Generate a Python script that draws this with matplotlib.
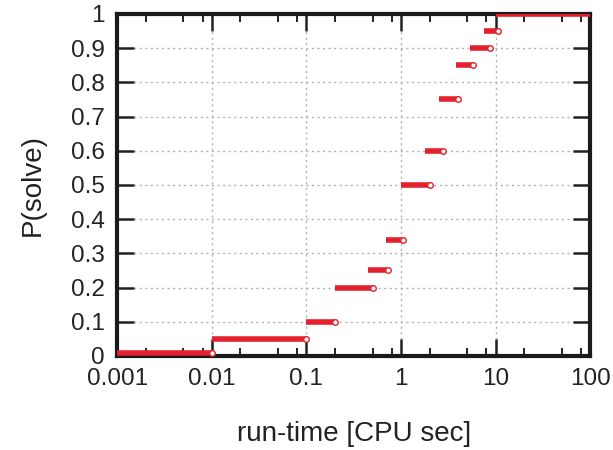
import numpy as np
import matplotlib.pyplot as plt
from matplotlib.ticker import FixedLocator, NullFormatter

plt.rcParams['font.family'] = ['Liberation Sans', 'DejaVu Sans']

# step levels of the runtime distribution, with start / end of each step
levels = [0.01, 0.05, 0.10, 0.20, 0.25, 0.34, 0.50, 0.60, 0.75, 0.85, 0.90, 0.95, 1.00]
starts = [0.001, 0.01, 0.1, 0.2, 0.45, 0.7, 1.0, 1.8, 2.5, 3.8, 5.3, 7.5, 10.0]
ends = [0.01, 0.1, 0.2, 0.5, 0.72, 1.05, 2.0, 2.75, 4.0, 5.8, 8.8, 10.7, 100.0]

red = '#e3202b'

fig = plt.figure(figsize=(6.13, 4.5), dpi=100)
ax = fig.add_axes([0.191, 0.209, 0.772, 0.76])

ax.hlines(levels, starts, ends, color=red, linewidth=4.0, zorder=3)
ax.plot(ends[:-1], levels[:-1], 'o', mfc='white', mec=red, ms=4, mew=1.0, zorder=4)

ax.set_xscale('log')
ax.set_xlim(0.001, 100)
ax.set_ylim(0, 1)

ax.set_yticks(np.arange(0, 1.01, 0.1))
ax.set_yticklabels(['0', '0.1', '0.2', '0.3', '0.4', '0.5', '0.6', '0.7', '0.8', '0.9', '1'])
ax.set_xticks([0.001, 0.01, 0.1, 1, 10, 100])
ax.set_xticklabels(['0.001', '0.01', '0.1', '1', '10', '100'])
minors = [m * 10.0 ** e for e in range(-3, 2) for m in (2, 5, 8)]
ax.xaxis.set_minor_locator(FixedLocator(minors))
ax.xaxis.set_minor_formatter(NullFormatter())

ax.tick_params(axis='both', which='major', direction='in', top=True, right=True,
               length=12, width=1.8, labelsize=17.5, pad=9, color='#222222',
               labelcolor='#222222')
ax.tick_params(axis='x', which='minor', direction='in', top=True, length=6, width=1.4,
               color='#222222')

ax.grid(True, which='major', linestyle=(0, (1.5, 2.5)), color='#b0b0b0', linewidth=1.0)
for s in ax.spines.values():
    s.set_linewidth(3.0)
    s.set_color('#1a1a1a')

ax.set_xlabel('run-time [CPU sec]', fontsize=20, labelpad=22, color='#222222')
ax.set_ylabel('P(solve)', fontsize=20, labelpad=18, color='#222222')

plt.savefig('out.png', dpi=100)
